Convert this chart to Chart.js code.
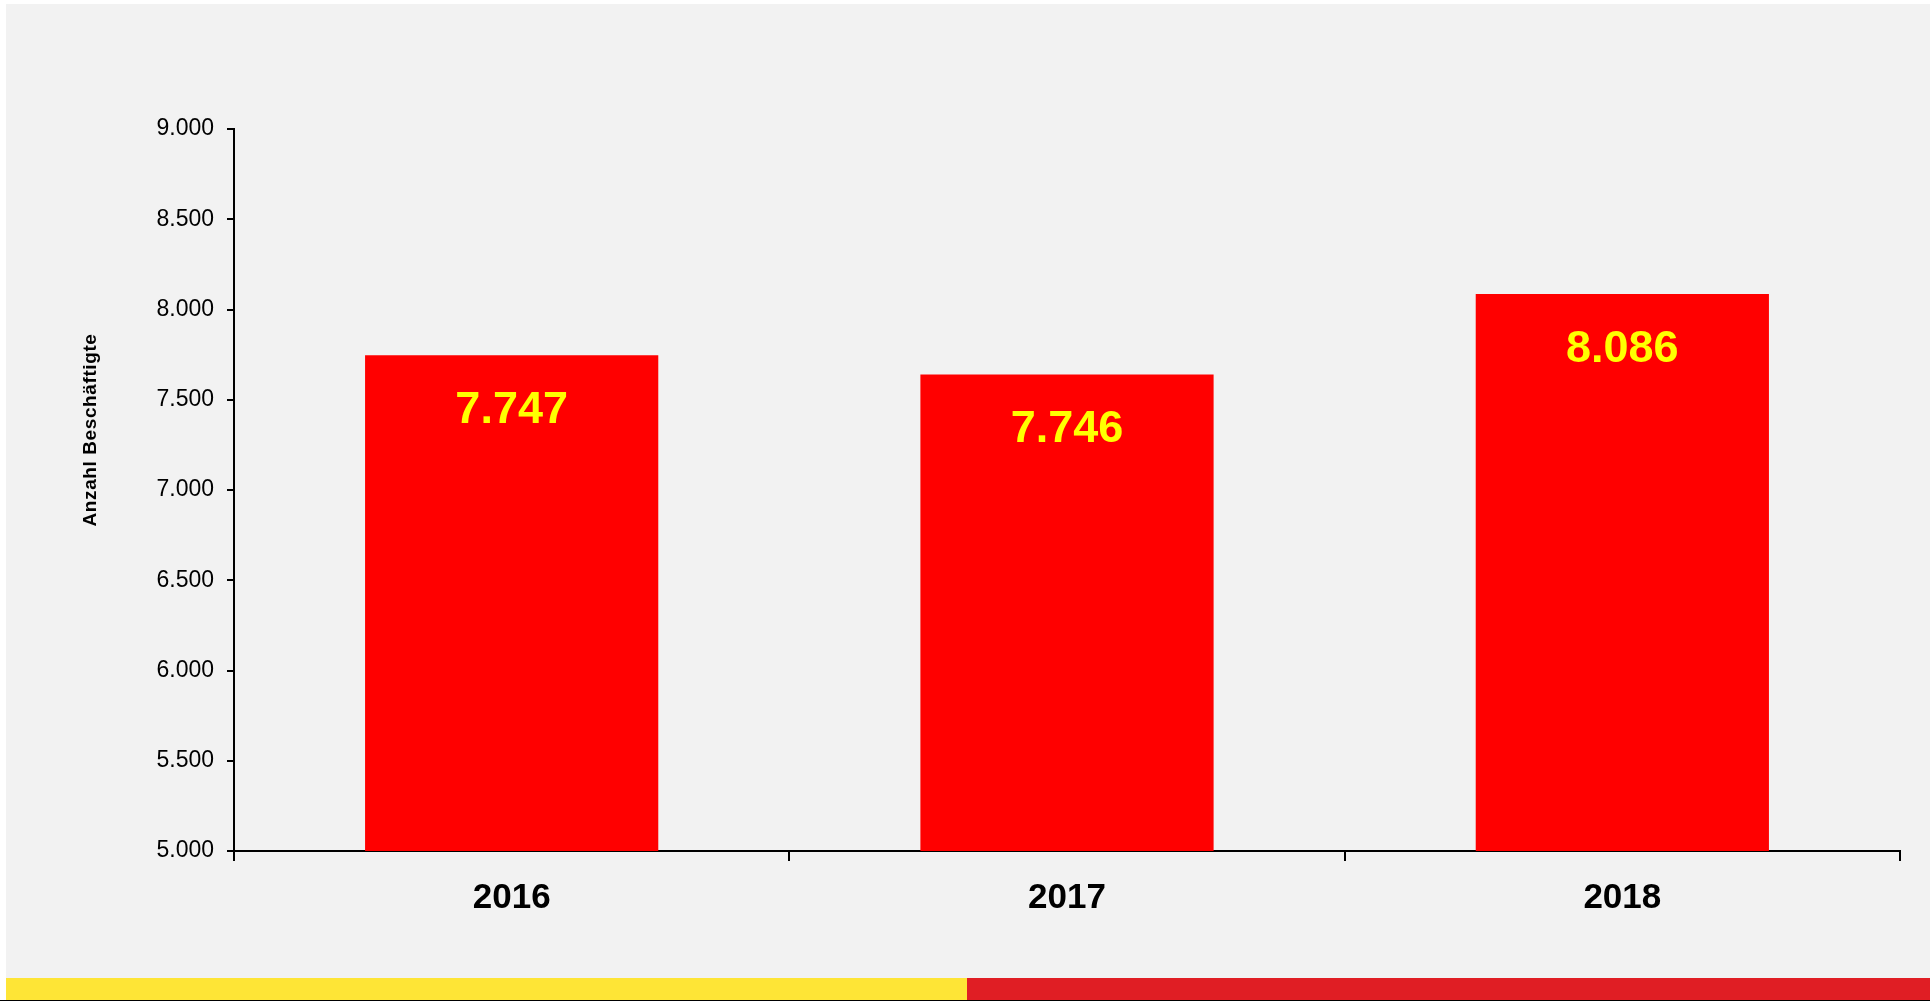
<!DOCTYPE html>
<html>
<head>
<meta charset="utf-8">
<script src="https://cdn.jsdelivr.net/npm/chart.js@4.4.0/dist/chart.umd.min.js"></script>
<style>
  html, body { margin: 0; padding: 0; background: #ffffff; }
  #panel { position: absolute; left: 6px; top: 4px; width: 1924px; height: 997px; background: #f2f2f2; }
  #wrap { position: absolute; left: 0; top: 0; width: 1930px; height: 1001px; }
  #stripY { position: absolute; left: 6px; top: 978px; width: 961px; height: 22px; background: #fee536; }
  #stripR { position: absolute; left: 967px; top: 978px; width: 963px; height: 22px; background: #e01e24; }
  #line { position: absolute; left: 0; top: 1000px; width: 1930px; height: 1px; background: #000; }
</style>
</head>
<body>
<div id="panel"></div>
<div id="wrap"><canvas id="c" width="1930" height="1001"></canvas></div>
<div id="stripY"></div>
<div id="stripR"></div>
<div id="line"></div>
<script>
const categories = ["2016", "2017", "2018"];
const barValues = [7747, 7640, 8086];
const valueLabels = ["7.747", "7.746", "8.086"];
const yAxisTitle = "Anzahl Beschäftigte";
const yMin = 5000, yMax = 9000, yStep = 500;

const FONT = "'Liberation Sans', Arial, Helvetica, sans-serif";

const labelPlugin = {
  id: 'valueLabels',
  afterDatasetsDraw(chart) {
    const ctx = chart.ctx;
    const meta = chart.getDatasetMeta(0);
    ctx.save();
    ctx.fillStyle = '#ffff00';
    ctx.font = 'bold 45px ' + FONT;
    ctx.textAlign = 'center';
    ctx.textBaseline = 'alphabetic';
    meta.data.forEach((bar, i) => {
      ctx.fillText(valueLabels[i], bar.x, bar.y + 68);
    });
    ctx.restore();
  }
};

const titlePlugin = {
  id: 'yTitle',
  afterDraw(chart) {
    const ctx = chart.ctx;
    ctx.save();
    ctx.translate(91, 430);
    ctx.rotate(-Math.PI / 2);
    ctx.fillStyle = '#000';
    ctx.font = 'bold 19px ' + FONT;
    if ('letterSpacing' in ctx) ctx.letterSpacing = '0.6px';
    ctx.textAlign = 'center';
    ctx.textBaseline = 'middle';
    ctx.fillText(yAxisTitle, 0, 0);
    ctx.restore();
  }
};

new Chart(document.getElementById('c'), {
  type: 'bar',
  data: {
    labels: categories,
    datasets: [{
      data: barValues,
      backgroundColor: '#ff0000',
      borderWidth: 0,
      categoryPercentage: 1.0,
      barPercentage: 0.528
    }]
  },
  options: {
    responsive: false,
    animation: false,
    devicePixelRatio: 1,
    layout: { padding: { top: 129, right: 30, left: 0, bottom: 0 } },
    plugins: { legend: { display: false }, tooltip: { enabled: false } },
    scales: {
      x: {
        afterFit(s) { s.height = 150; },
        grid: { offset: true, drawOnChartArea: false, drawTicks: true, tickLength: 10, color: '#000', lineWidth: 2 },
        border: { display: true, color: '#000', width: 2 },
        ticks: { color: '#000', font: { family: FONT, size: 35, weight: 'bold' }, padding: 16 }
      },
      y: {
        min: yMin, max: yMax,
        afterFit(s) { s.width = 234; },
        grid: { drawOnChartArea: false, drawTicks: true, tickLength: 7, color: '#000', lineWidth: 2 },
        border: { display: true, color: '#000', width: 2 },
        ticks: {
          stepSize: yStep,
          color: '#000',
          padding: 13,
          font: { family: FONT, size: 23 },
          callback: v => v.toLocaleString('de-DE')
        }
      }
    }
  },
  plugins: [labelPlugin, titlePlugin]
});
</script>
</body>
</html>
